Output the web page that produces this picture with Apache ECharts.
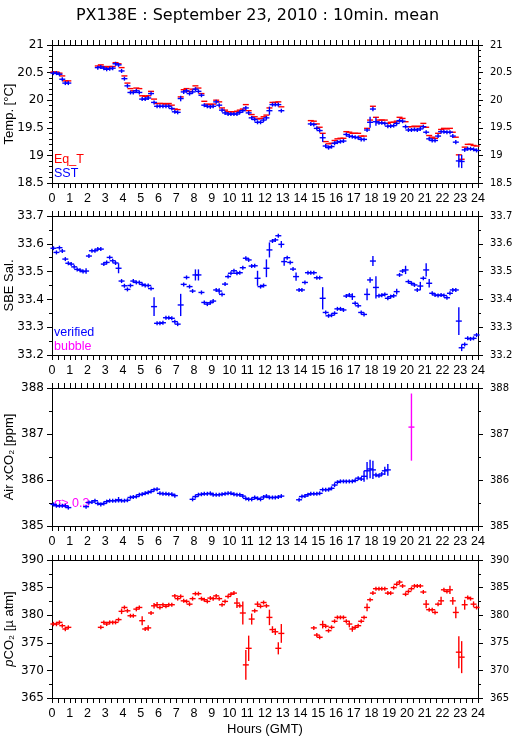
<!DOCTYPE html>
<html><head><meta charset="utf-8">
<script src="https://cdn.jsdelivr.net/npm/echarts@6/dist/echarts.min.js"></script>
<style>html,body{margin:0;padding:0;background:#fff}#c{width:515px;height:739px}</style>
</head><body><div id="c"></div>
<script>
// ---------- DATA ----------
const xTickLabels = ['0','1','2','3','4','5','6','7','8','9','10','11','12','13','14','15','16','17','18','19','20','21','22','23','24'];

const tempHours = [
 0.08,0.25,0.42,0.58,0.75,0.92,
 2.58,2.75,2.92,
 3.08,3.25,3.42,3.58,3.75,3.92,
 4.08,4.25,4.42,4.58,4.75,4.92,
 5.08,5.25,5.42,5.58,5.75,5.92,
 6.08,6.25,6.42,6.58,6.75,6.92,
 7.08,7.25,7.42,7.58,7.75,7.92,
 8.08,8.25,8.42,8.58,8.75,8.92,
 9.08,9.25,9.42,9.58,9.75,9.92,
 10.08,10.25,10.42,10.58,10.75,10.92,
 11.08,11.25,11.42,11.58,11.75,11.92,
 12.08,12.25,12.42,12.58,12.75,12.92,
 14.58,14.75,14.92,
 15.08,15.25,15.42,15.58,15.75,15.92,
 16.08,16.25,16.42,16.58,16.75,16.92,
 17.08,17.25,17.42,17.58,17.75,17.92,
 18.08,18.25,18.42,18.58,18.75,18.92,
 19.08,19.25,19.42,19.58,19.75,19.92,
 20.08,20.25,20.42,20.58,20.75,20.92,
 21.08,21.25,21.42,21.58,21.75,21.92,
 22.08,22.25,22.42,22.58,22.75,22.92,
 23.08,23.25,23.42,23.58,23.75,23.92
];
const sstValues = [
 20.49,20.49,20.47,20.38,20.31,20.31,
 20.59,20.60,20.58,
 20.56,20.57,20.58,20.66,20.64,20.53,
 20.39,20.26,20.14,20.14,20.17,20.14,
 20.02,20.02,20.04,20.12,19.96,19.89,
 19.89,19.89,19.89,19.89,19.85,19.79,
 19.78,20.03,20.15,20.17,20.12,20.15,
 20.20,20.16,20.09,19.91,19.89,19.88,
 19.89,19.97,19.91,19.82,19.77,19.75,
 19.75,19.75,19.75,19.78,19.81,19.86,
 19.77,19.68,19.65,19.60,19.60,19.64,
 19.68,19.81,19.92,19.92,19.92,19.81,
 19.57,19.56,19.49,
 19.45,19.32,19.17,19.14,19.16,19.22,
 19.24,19.25,19.26,19.38,19.35,19.34,
 19.33,19.32,19.29,19.29,19.46,19.60,
 19.84,19.61,19.59,19.59,19.58,19.53,
 19.53,19.54,19.58,19.63,19.62,19.52,
 19.46,19.46,19.47,19.46,19.48,19.52,
 19.42,19.30,19.27,19.27,19.35,19.43,
 19.43,19.42,19.42,19.35,19.24,18.90,
 18.89,19.10,19.12,19.12,19.11,19.09
];
const sstErr = [
 0,0,0,0,0,0,
 0,0,0,
 0,0,0,0,0,0,
 0.03,0,0,0,0,0,
 0,0,0,0,0.03,0,
 0,0,0,0,0,0,
 0,0.05,0,0,0,0,
 0,0,0,0,0,0,
 0,0,0,0,0,0,
 0,0,0,0,0,0,
 0,0,0,0,0,0,
 0.03,0.075,0,0,0,0,
 0,0,0,
 0,0.075,0,0,0,0,
 0,0,0,0,0,0,
 0,0,0,0,0.03,0.1,
 0.04,0.075,0,0,0,0,
 0,0,0,0,0,0,
 0,0,0,0,0,0,
 0.03,0,0,0,0,0,
 0,0,0,0,0.04,0.12,
 0.12,0,0,0,0,0
];
const eqtValues = [
 20.51,20.51,20.49,20.44,20.35,20.35,
 20.62,20.64,20.61,
 20.60,20.61,20.61,20.68,20.66,20.59,
 20.44,20.31,20.21,20.17,20.22,20.21,
 20.08,20.07,20.08,20.16,20.02,19.94,
 19.94,19.94,19.93,19.94,19.91,19.84,
 19.83,20.06,20.19,20.21,20.16,20.20,
 20.26,20.22,20.12,19.98,19.93,19.92,
 19.93,20.00,19.97,19.86,19.82,19.79,
 19.79,19.79,19.80,19.82,19.84,19.92,
 19.81,19.74,19.70,19.66,19.67,19.70,
 19.73,19.86,19.96,19.96,19.97,19.88,
 19.63,19.62,19.57,
 19.51,19.40,19.25,19.21,19.22,19.27,
 19.30,19.31,19.31,19.43,19.42,19.40,
 19.40,19.40,19.35,19.35,19.49,19.64,
 19.89,19.69,19.64,19.64,19.64,19.58,
 19.60,19.60,19.62,19.69,19.67,19.61,
 19.52,19.52,19.53,19.52,19.53,19.58,
 19.51,19.36,19.33,19.31,19.40,19.47,
 19.49,19.48,19.49,19.42,19.33,19.01,
 18.93,19.15,19.20,19.20,19.18,19.17
];

const salHours = [
 0.08,0.25,0.42,0.58,0.75,0.92,
 1.08,1.25,1.42,1.58,1.75,1.92,
 2.08,2.25,2.42,2.58,2.75,2.92,
 3.08,3.25,3.42,3.58,3.75,3.92,
 4.08,4.25,4.42,4.58,4.75,4.92,
 5.08,5.25,5.42,5.58,5.75,5.92,
 6.08,6.25,6.42,6.58,6.75,6.92,
 7.08,7.25,7.42,7.58,7.75,7.92,
 8.08,8.25,8.42,8.58,8.75,8.92,
 9.08,9.25,9.42,9.58,9.75,9.92,
 10.08,10.25,10.42,10.58,10.75,10.92,
 11.08,11.25,11.42,11.58,11.75,11.92,
 12.08,12.25,12.42,12.58,12.75,12.92,
 13.08,13.25,13.42,13.58,13.75,13.92,
 14.08,14.25,14.42,14.58,14.75,14.92,
 15.08,15.25,15.42,15.58,15.75,15.92,
 16.08,16.25,16.42,16.58,16.75,16.92,
 17.08,17.25,17.42,17.58,17.75,17.92,
 18.08,18.25,18.42,18.58,18.75,18.92,
 19.08,19.25,19.42,19.58,19.75,19.92,
 20.08,20.25,20.42,20.58,20.75,20.92,
 21.08,21.25,21.42,21.58,21.75,21.92,
 22.08,22.25,22.42,22.58,22.75,22.92,
 23.08,23.25,23.42,23.58,23.75,23.92
];
const salValues = [
 33.584,33.569,33.586,33.574,33.545,33.530,
 33.527,33.517,33.508,33.505,33.500,33.502,
 33.556,33.575,33.575,33.581,33.581,33.527,
 33.533,33.551,33.539,33.531,33.512,33.466,
 33.449,33.436,33.450,33.466,33.461,33.461,
 33.454,33.450,33.450,33.439,33.374,33.314,
 33.314,33.316,33.334,33.334,33.332,33.320,
 33.311,33.380,33.454,33.479,33.446,33.430,
 33.488,33.488,33.425,33.389,33.383,33.388,
 33.394,33.434,33.430,33.418,33.455,33.482,
 33.494,33.503,33.494,33.496,33.514,33.548,
 33.542,33.520,33.521,33.476,33.446,33.450,
 33.512,33.578,33.610,33.614,33.629,33.598,
 33.536,33.550,33.533,33.509,33.482,33.434,
 33.434,33.461,33.496,33.496,33.496,33.478,
 33.478,33.404,33.353,33.341,33.343,33.350,
 33.366,33.366,33.362,33.412,33.416,33.410,
 33.386,33.377,33.353,33.346,33.418,33.470,
 33.538,33.443,33.413,33.415,33.418,33.404,
 33.410,33.413,33.428,33.488,33.502,33.506,
 33.464,33.458,33.452,33.434,33.448,33.476,
 33.506,33.458,33.422,33.416,33.414,33.416,
 33.414,33.406,33.422,33.434,33.434,33.322,
 33.226,33.238,33.260,33.258,33.260,33.272
];
const salErr = [
 0,0,0,0,0,0,
 0,0,0,0,0,0.01,
 0,0,0,0,0,0,
 0,0,0,0,0.018,0,
 0,0,0,0,0,0,
 0,0,0,0,0.034,0,
 0,0,0,0,0,0,
 0,0.04,0,0,0,0,
 0.02,0.02,0,0,0,0,
 0,0,0.01,0,0,0,
 0,0,0,0,0,0,
 0,0,0,0.027,0,0,
 0.032,0.027,0,0,0,0.012,
 0.015,0,0,0,0.015,0,
 0,0,0,0,0,0,
 0,0.04,0,0,0,0,
 0,0,0,0,0,0.012,
 0,0,0,0,0.021,0.01,
 0.018,0.04,0,0,0,0,
 0,0,0.01,0,0,0.015,
 0,0,0,0,0.015,0,
 0.024,0.015,0,0,0,0,
 0,0,0,0,0,0.05,
 0.012,0,0,0,0,0
];

const airHours = [
 0.08,0.25,0.42,0.58,0.75,0.92,
 1.92,
 2.08,2.25,2.42,2.58,2.75,2.92,
 3.08,3.25,3.42,3.58,3.75,3.92,
 4.08,4.25,4.42,4.58,4.75,4.92,
 5.08,5.25,5.42,5.58,5.75,5.92,
 6.08,6.25,6.42,6.58,6.75,6.92,
 7.92,
 8.08,8.25,8.42,8.58,8.75,8.92,
 9.08,9.25,9.42,9.58,9.75,9.92,
 10.08,10.25,10.42,10.58,10.75,10.92,
 11.08,11.25,11.42,11.58,11.75,11.92,
 12.08,12.25,12.42,12.58,12.75,12.92,
 13.92,
 14.08,14.25,14.42,14.58,14.75,14.92,
 15.08,15.25,15.42,15.58,15.75,15.92,
 16.08,16.25,16.42,16.58,16.75,16.92,
 17.08,17.25,17.42,17.58,17.75,17.92,
 18.08,18.25,18.42,18.58,18.75,18.92
];
const airValues = [
 385.47,385.44,385.44,385.44,385.44,385.40,
 385.42,
 385.51,385.52,385.55,385.49,385.47,385.49,
 385.53,385.55,385.55,385.55,385.57,385.55,
 385.55,385.56,385.62,385.63,385.64,385.68,
 385.69,385.71,385.73,385.75,385.79,385.80,
 385.71,385.70,385.70,385.69,385.69,385.66,
 385.58,
 385.64,385.68,385.69,385.70,385.70,385.71,
 385.68,385.68,385.68,385.69,385.70,385.71,
 385.71,385.69,385.68,385.68,385.65,385.60,
 385.58,385.58,385.62,385.60,385.58,385.63,
 385.65,385.62,385.62,385.62,385.63,385.65,
 385.57,
 385.64,385.65,385.68,385.70,385.70,385.70,
 385.71,385.79,385.79,385.79,385.82,385.89,
 385.95,385.97,385.97,385.97,385.97,385.97,
 385.99,386.04,386.02,386.08,386.20,386.24,
 386.22,386.11,386.09,386.13,386.20,386.22
];
const airErr = [
 0,0,0,0,0,0.03,
 0,
 0,0,0,0,0,0,
 0,0,0,0,0.06,0,
 0,0,0,0,0,0,
 0,0,0,0,0,0.04,
 0,0,0,0,0,0,
 0,
 0,0,0,0,0,0,
 0,0,0,0,0,0,
 0,0,0,0,0,0,
 0,0.04,0,0,0,0,
 0,0.03,0,0,0,0,
 0,
 0,0,0,0,0,0,
 0,0,0,0,0,0,
 0,0,0,0,0,0,
 0,0,0,0.12,0.19,0.2,
 0.2,0.05,0.03,0,0.09,0.13
];
const airSigmaHours = [20.25];
const airSigmaValues = [387.15];
const airSigmaErr = [0.73];

const pco2Hours = [
 0.08,0.25,0.42,0.58,0.75,0.92,
 2.75,2.92,
 3.08,3.25,3.42,3.58,3.75,3.92,
 4.08,4.25,4.42,4.58,4.75,4.92,
 5.08,5.25,5.42,5.58,5.75,5.92,
 6.08,6.25,6.42,6.58,6.75,6.92,
 7.08,7.25,7.42,7.58,7.75,7.92,
 8.08,8.25,8.42,8.58,8.75,8.92,
 9.08,9.25,9.42,9.58,9.75,9.92,
 10.08,10.25,10.42,10.58,10.75,10.92,
 11.08,11.25,11.42,11.58,11.75,11.92,
 12.08,12.25,12.42,12.58,12.75,12.92,
 14.75,14.92,
 15.08,15.25,15.42,15.58,15.75,15.92,
 16.08,16.25,16.42,16.58,16.75,16.92,
 17.08,17.25,17.42,17.58,17.75,17.92,
 18.08,18.25,18.42,18.58,18.75,18.92,
 19.08,19.25,19.42,19.58,19.75,19.92,
 20.08,20.25,20.42,20.58,20.75,20.92,
 21.08,21.25,21.42,21.58,21.75,21.92,
 22.08,22.25,22.42,22.58,22.75,22.92,
 23.08,23.25,23.42,23.58,23.75,23.92
];
const pco2Values = [
 378.4,378.4,378.7,378.1,377.5,377.8,
 377.8,378.7,
 378.4,378.7,378.7,378.7,379.2,380.7,
 381.4,380.8,379.9,379.9,381.1,381.4,
 379.0,377.5,377.7,380.4,381.7,381.9,
 381.4,381.9,381.6,381.9,381.9,383.5,
 383.0,383.4,382.6,382.5,382.0,383.0,
 383.9,383.9,383.0,382.8,382.5,383.1,
 383.0,383.5,383.0,381.9,382.5,383.4,
 383.8,384.0,382.2,381.7,380.4,371.0,
 374.0,379.3,380.8,382.0,381.6,382.3,
 381.7,379.6,377.4,377.0,374.0,376.7,
 377.7,376.4,
 376.0,378.3,378.0,377.2,377.8,378.9,
 379.6,379.6,379.6,378.9,378.4,377.5,
 377.8,378.1,378.9,379.6,381.4,382.8,
 384.0,384.8,384.8,384.8,384.8,384.0,
 384.0,385.0,385.6,386.0,385.3,383.8,
 384.3,384.8,385.3,385.3,385.3,384.2,
 382.0,381.0,381.0,380.5,382.0,382.6,
 384.6,384.3,384.6,382.6,380.5,373.3,
 372.4,381.9,383.2,383.0,382.0,381.4
];
const pco2Err = [
 0.4,0.4,0,0,0.4,0,
 0,0,
 0,0,0,0,0,0.5,
 0,0,0,0,0.4,0,
 0.8,0,0.5,0,0.5,0.5,
 0,0,0,0,0,0,
 0,0,0,0,0,0,
 0,0,0,0,0,0,
 0,0,0,0,0,0,
 0,0,0.9,0,2.1,2.7,
 2.3,1.0,0,0.5,0,0,
 0,1.4,0.6,0.6,1.1,1.7,
 0,0,
 0,0.7,0,0,0,0,
 0,0,0,0,0.6,0.5,
 0,0,0,0,0.7,0,
 0,0,0,0,0,0,
 0,0,0,0,0,0,
 0,0,0,0,0,0,
 0.75,0,0,0,0,0.75,
 0,0,0.75,0.7,1.05,2.9,
 2.9,0.9,0,0,0.5,0
];

// ---------- CHART ----------
const FONT = 'DejaVu Sans';
const FONT2 = 'Liberation Sans';
const grids = [
 {left:52, top:45, width:426, height:138},
 {left:52, top:216, width:426, height:139},
 {left:52, top:388, width:426, height:138},
 {left:52, top:560, width:426, height:138}
].map(g => Object.assign(g, {containLabel:false, outerBoundsMode:'none'}));
const yCfg = [
 {min:18.5, max:21, interval:0.5, minor:5, name:'Temp. [°C]', fmt:v=>String(+v.toFixed(1))},
 {min:33.2, max:33.7, interval:0.1, minor:2, name:'SBE Sal.', fmt:v=>v.toFixed(1)},
 {min:385, max:388, interval:1, minor:2, name:'Air xCO₂ [ppm]', fmt:v=>String(v)},
 {min:365, max:390, interval:5, minor:2, name:'{i|p}CO₂ [µ atm]', fmt:v=>String(v)}
];

const xAxes = [], yAxes = [];
for (let i = 0; i < 4; i++) {
  const base = {
    gridIndex:i, type:'value', min:0, max:24, interval:1,
    axisLine:{show:true, onZero:false, lineStyle:{color:'#000', width:1}},
    axisTick:{show:true, inside:false, length:5, lineStyle:{color:'#000'}},
    minorTick:{show:true, splitNumber:3, length:5, lineStyle:{color:'#000'}},
    splitLine:{show:false}, minorSplitLine:{show:false}
  };
  xAxes.push(Object.assign({}, base, {
    position:'bottom',
    axisLabel:{show:true, color:'#000', fontFamily:FONT2, fontSize:12.5, margin:9,
      formatter:v=>xTickLabels[Math.round(v)]},
    name: i===3 ? 'Hours (GMT)' : '', nameLocation:'middle', nameGap:25,
    nameMoveOverlap:false,
    nameTextStyle:{color:'#000', fontFamily:FONT2, fontSize:13}
  }));
  xAxes.push(Object.assign({}, base, {position:'top', axisLabel:{show:false}}));
  const c = yCfg[i];
  const ybase = {
    gridIndex:i, type:'value', min:c.min, max:c.max, interval:c.interval,
    axisLine:{show:true, onZero:false, lineStyle:{color:'#000', width:1}},
    axisTick:{show:true, inside:false, length:5, lineStyle:{color:'#000'}},
    minorTick:{show:true, splitNumber:c.minor, length:3, lineStyle:{color:'#000'}},
    splitLine:{show:false}, minorSplitLine:{show:false}
  };
  yAxes.push(Object.assign({}, ybase, {
    position:'left',
    axisLabel:{color:'#000', fontFamily:FONT, fontSize:12, margin:8, formatter:c.fmt},
    name:c.name, nameLocation:'middle', nameRotate:90, nameGap:36,
    nameMoveOverlap:false,
    nameTextStyle:{color:'#000', fontFamily:FONT2, fontSize:13,
      rich:{i:{fontStyle:'italic', fontFamily:FONT2, fontSize:13, color:'#000'}}}
  }));
  yAxes.push(Object.assign({}, ybase, {
    position:'right',
    axisLabel:{color:'#000', fontFamily:FONT, fontSize:10, margin:12, formatter:c.fmt}
  }));
}

function crossRender(hw, minV, showV, lw) {
  return function(params, api) {
    const h = api.value(0), v = api.value(1), e = api.value(2);
    const c = api.coord([h, v]);
    const up = api.coord([h, v + e]);
    const d = Math.max(Math.abs(c[1] - up[1]), minV);
    const col = api.visual('color');
    const ch = [{type:'line', shape:{x1:c[0]-hw, y1:c[1], x2:c[0]+hw, y2:c[1]},
      style:{stroke:col, lineWidth:lw}}];
    if (showV) ch.push({type:'line', shape:{x1:c[0], y1:c[1]-d, x2:c[0], y2:c[1]+d},
      style:{stroke:col, lineWidth:lw}});
    return {type:'group', children:ch};
  };
}
function mk(hours, vals, errs) { return hours.map((h, k) => [h, vals[k], errs ? errs[k] : 0]); }
function cs(name, idx, color, data, showV, hw) {
  return {
    name, type:'custom', xAxisIndex:idx*2, yAxisIndex:idx*2, silent:true, animation:false,
    itemStyle:{color}, encode:{x:0, y:1}, dimensions:['h','v','e'],
    renderItem: crossRender(hw || 3, 2, showV, 1.4), data
  };
}

const option = {
  backgroundColor:'#fff',
  animation:false,
  title:{text:'PX138E : September 23, 2010 : 10min. mean', left:'center', top:3,
    textStyle:{fontFamily:FONT, fontSize:16, fontWeight:'normal', color:'#000'}},
  grid:grids,
  xAxis:xAxes,
  yAxis:yAxes,
  series:[
    cs('Eq_T', 0, '#ff0000', mk(tempHours, eqtValues, null), false, 3),
    cs('SST', 0, '#0000ff', mk(tempHours, sstValues, sstErr), true, 3),
    cs('verified', 1, '#0000ff', mk(salHours, salValues, salErr), true, 3),
    cs('Air xCO2', 2, '#0000ff', mk(airHours, airValues, airErr), true, 3),
    cs('sigma', 2, '#ff00ff', mk(airSigmaHours, airSigmaValues, airSigmaErr), true, 3),
    cs('pCO2', 3, '#ff0000', mk(pco2Hours, pco2Values, pco2Err), true, 3)
  ],
  graphic:[
    {type:'text', x:54, y:153, style:{text:'Eq_T', fill:'#ff0000', font:'12.5px "Liberation Sans"'}},
    {type:'text', x:54, y:167, style:{text:'SST', fill:'#0000ff', font:'12.5px "Liberation Sans"'}},
    {type:'text', x:54, y:326, style:{text:'verified', fill:'#0000ff', font:'12.5px "Liberation Sans"'}},
    {type:'text', x:54, y:340, style:{text:'bubble', fill:'#ff00ff', font:'12.5px "Liberation Sans"'}},
    {type:'text', x:54, y:497, style:{text:'σ≥ 0.3', fill:'#ff00ff', font:'12.5px "Liberation Sans"'}}
  ]
};
const chart = echarts.init(document.getElementById('c'), null, {renderer:'canvas'});
chart.setOption(option);
</script></body></html>
